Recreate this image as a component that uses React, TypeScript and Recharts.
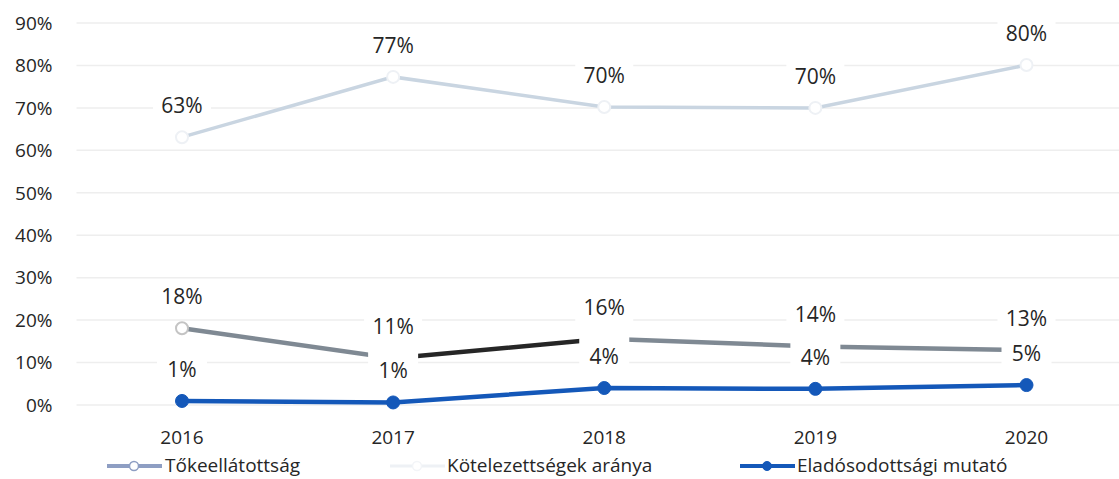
import React from 'react';
import { LineChart, Line, XAxis, YAxis, CartesianGrid, LabelList } from 'recharts';

const years = ['2016', '2017', '2018', '2019', '2020'];
const tokeellatottsag = [18.1, 11.0, 15.6, 13.8, 12.9];
const kotelezettsegek = [63.1, 77.3, 70.2, 70.0, 80.1];
const eladosodottsagi = [0.95, 0.6, 4.0, 3.8, 4.7];
const yTicks = [0, 10, 20, 30, 40, 50, 60, 70, 80, 90];
const seriesNames = ['Tőkeellátottság', 'Kötelezettségek aránya', 'Eladósodottsági mutató'];

const data = years.map((y, i) => ({
  year: y,
  toke: tokeellatottsag[i],
  kotel: kotelezettsegek[i],
  elad: eladosodottsagi[i],
}));

const FONT = '"Open Sans", sans-serif';
const TEXT = '#262626';
const GRAY = '#7f8993';
const LIGHT = '#c9d5e1';
const BLUE = '#1458b9';

const makeLabel = (boxW: number, up: number, down: number) => (props: any) => {
  const { x, y, value } = props;
  if (x == null || y == null) return null;
  const txt = `${Math.round(Number(value))}%`;
  const w = boxW + (txt.length - 2) * 12;
  const cy = y - 32;
  return (
    <g>
      <rect x={x - w / 2} y={cy - up} width={w} height={up + down} fill="#ffffff" />
      <text x={x} y={cy} textAnchor="middle" dominantBaseline="central" fontSize={21} fill={TEXT} fontFamily={FONT}>
        {txt}
      </text>
    </g>
  );
};

const Legend = () => (
  <div style={{ position: 'absolute', left: 0, top: 444, width: 1111, height: 28, fontFamily: FONT, fontSize: 19, color: TEXT }}>
    <svg style={{ position: 'absolute', left: 99, top: 6 }} width={56} height={16}>
      <line x1={0} y1={8} x2={55} y2={8} stroke="#8e9ec3" strokeWidth={4} />
      <circle cx={27} cy={8} r={4.5} fill="#fff" stroke="#8e9ec3" strokeWidth={1.5} />
    </svg>
    <span style={{ position: 'absolute', left: 157, top: 0, whiteSpace: 'nowrap' }}>{seriesNames[0]}</span>
    <svg style={{ position: 'absolute', left: 382, top: 6 }} width={56} height={16}>
      <line x1={0} y1={8} x2={55} y2={8} stroke="#eef1f5" strokeWidth={3} />
      <circle cx={27} cy={8} r={4.5} fill="#fff" stroke="#f3f5f8" strokeWidth={1.5} />
    </svg>
    <span style={{ position: 'absolute', left: 439, top: 0, whiteSpace: 'nowrap' }}>{seriesNames[1]}</span>
    <svg style={{ position: 'absolute', left: 732, top: 6 }} width={56} height={16}>
      <line x1={0} y1={8} x2={55} y2={8} stroke={BLUE} strokeWidth={4} />
      <circle cx={27} cy={8} r={4.5} fill={BLUE} stroke={BLUE} strokeWidth={1} />
    </svg>
    <span style={{ position: 'absolute', left: 789, top: 0, whiteSpace: 'nowrap' }}>{seriesNames[2]}</span>
  </div>
);

export default function App() {
  return (
    <div style={{ position: 'absolute', left: 8, top: 8, width: 1111, height: 471, overflow: 'hidden', background: '#fff' }}>
      <LineChart width={1124} height={471} data={data} margin={{ top: 15, right: 0, bottom: 40, left: 0 }}>
        <defs>
          <linearGradient id="tokeGrad" x1="0" y1="0" x2="1" y2="0">
            <stop offset="0" stopColor={GRAY} />
            <stop offset="0.25" stopColor={GRAY} />
            <stop offset="0.25" stopColor="#262626" />
            <stop offset="0.5" stopColor="#262626" />
            <stop offset="0.5" stopColor={GRAY} />
            <stop offset="1" stopColor={GRAY} />
          </linearGradient>
        </defs>
        <CartesianGrid vertical={false} stroke="#eeeeee" strokeWidth={1.5} />
        <XAxis
          dataKey="year"
          axisLine={false}
          tickLine={false}
          tickSize={0}
          tickMargin={26}
          height={34}
          padding={{ left: 105.5, right: 105.5 }}
          tick={{ fontSize: 19, fill: TEXT, fontFamily: FONT }}
          interval={0}
        />
        <YAxis
          width={68.5}
          domain={[0, 90]}
          ticks={yTicks}
          axisLine={false}
          tickLine={false}
          tickSize={0}
          tickMargin={24}
          tickFormatter={(v: number) => `${v}%`}
          tick={{ fontSize: 19, fill: TEXT, fontFamily: FONT }}
        />
        <Line
          dataKey="toke"
          name={seriesNames[0]}
          stroke="url(#tokeGrad)"
          strokeWidth={4.5}
          dot={{ r: 6, fill: '#fff', stroke: '#c4c4c4', strokeWidth: 2 }}
          isAnimationActive={false}
        >
          <LabelList dataKey="toke" content={makeLabel(46, 15, 15)} />
        </Line>
        <Line
          dataKey="kotel"
          name={seriesNames[1]}
          stroke={LIGHT}
          strokeWidth={3.5}
          dot={{ r: 6, fill: '#fff', stroke: '#eef1f5', strokeWidth: 2 }}
          isAnimationActive={false}
        >
          <LabelList dataKey="kotel" content={makeLabel(46, 15, 15)} />
        </Line>
        <Line
          dataKey="elad"
          name={seriesNames[2]}
          stroke={BLUE}
          strokeWidth={4.5}
          dot={{ r: 6.5, fill: BLUE, stroke: BLUE, strokeWidth: 1 }}
          isAnimationActive={false}
        >
          <LabelList dataKey="elad" content={makeLabel(50, 27, 20)} />
        </Line>
      </LineChart>
      <Legend />
    </div>
  );
}
